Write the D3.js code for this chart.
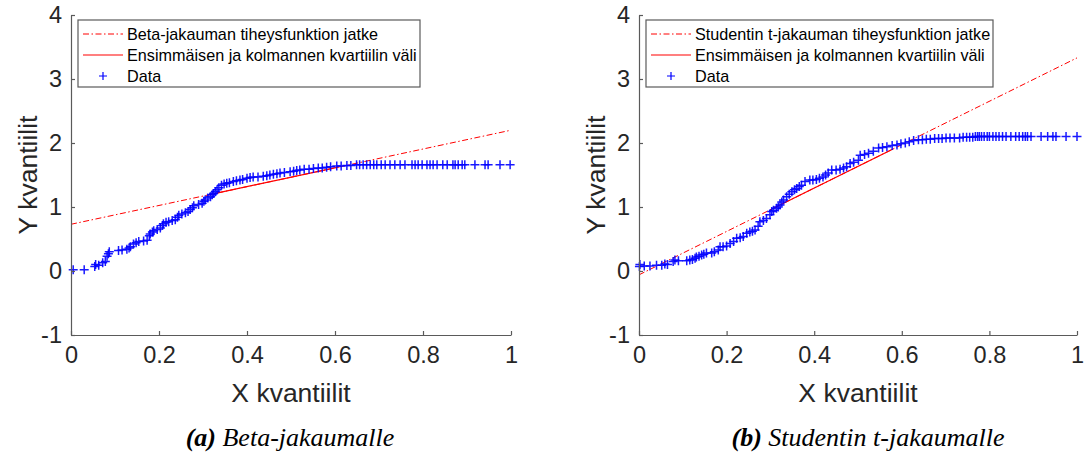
<!DOCTYPE html>
<html>
<head>
<meta charset="utf-8">
<script src="https://cdn.jsdelivr.net/npm/d3@7"></script>
<style>
  body { margin: 0; background: #fff; }
  svg { display: block; }
</style>
</head>
<body>
<svg id="chart" width="1084" height="455"></svg>
<script>
// ---- Q-Q data: beta fit (panel a) ----
const betaX = [0.005,0.03,0.054,0.056,0.063,0.072,0.078,0.082,0.085,0.087,0.108,0.116,0.127,0.132,0.135,0.142,0.148,0.154,0.165,0.173,
  0.178,0.18,0.185,0.188,0.196,0.203,0.208,0.21,0.216,0.222,0.23,0.237,0.242,0.245,0.252,0.26,0.266,0.271,0.276,0.279,
  0.29,0.298,0.302,0.305,0.311,0.317,0.321,0.324,0.328,0.332,0.336,0.342,0.348,0.354,0.36,0.369,0.376,0.384,0.39,0.4,
  0.407,0.414,0.425,0.437,0.445,0.452,0.46,0.468,0.475,0.485,0.498,0.506,0.513,0.52,0.53,0.541,0.551,0.562,0.571,0.581,
  0.59,0.604,0.614,0.627,0.636,0.649,0.656,0.664,0.672,0.68,0.688,0.695,0.705,0.714,0.725,0.736,0.748,0.759,0.775,0.782,
  0.789,0.798,0.809,0.816,0.823,0.832,0.845,0.855,0.868,0.873,0.88,0.889,0.895,0.918,0.941,0.948,0.975,0.998];
const betaY = [0.02,0.02,0.07,0.10,0.09,0.13,0.15,0.23,0.27,0.30,0.32,0.33,0.34,0.36,0.38,0.42,0.44,0.46,0.47,0.48,
  0.55,0.58,0.61,0.63,0.65,0.67,0.71,0.74,0.76,0.77,0.79,0.80,0.84,0.87,0.89,0.91,0.93,0.96,0.99,1.02,
  1.04,1.06,1.09,1.11,1.14,1.16,1.19,1.21,1.24,1.27,1.30,1.34,1.36,1.37,1.38,1.40,1.41,1.42,1.43,1.45,
  1.46,1.47,1.47,1.48,1.49,1.50,1.51,1.52,1.53,1.54,1.55,1.56,1.57,1.58,1.59,1.59,1.60,1.61,1.61,1.62,
  1.63,1.64,1.64,1.65,1.65,1.66,1.66,1.66,1.66,1.66,1.66,1.66,1.66,1.66,1.66,1.66,1.66,1.66,1.66,1.66,
  1.66,1.66,1.66,1.66,1.66,1.66,1.66,1.66,1.66,1.66,1.66,1.66,1.66,1.66,1.66,1.66,1.66,1.66];
const betaFitX = [0, 1];
const betaFitY = [0.73, 2.2];
const betaIqrX = [0.31, 0.61];
const betaIqrY = [1.186, 1.627];

// ---- Q-Q data: Student t fit (panel b) ----
const tX = [0.001,0.002,0.012,0.025,0.04,0.052,0.059,0.065,0.078,0.082,0.09,0.109,0.116,0.122,0.128,0.131,0.137,0.143,0.148,0.154,
  0.166,0.172,0.181,0.185,0.192,0.2,0.208,0.216,0.223,0.231,0.238,0.246,0.253,0.259,0.265,0.272,0.276,0.284,0.291,0.299,
  0.303,0.307,0.314,0.318,0.322,0.326,0.33,0.337,0.343,0.349,0.355,0.36,0.366,0.371,0.379,0.39,0.397,0.405,0.412,0.42,
  0.426,0.432,0.44,0.45,0.459,0.467,0.474,0.482,0.49,0.501,0.505,0.515,0.524,0.535,0.547,0.556,0.566,0.578,0.589,0.598,
  0.608,0.617,0.627,0.638,0.647,0.656,0.665,0.675,0.684,0.692,0.701,0.71,0.72,0.732,0.74,0.748,0.755,0.762,0.768,0.773,
  0.777,0.782,0.788,0.795,0.8,0.808,0.815,0.822,0.83,0.838,0.849,0.86,0.868,0.876,0.882,0.887,0.895,0.918,0.933,0.945,
  0.952,0.975,1.0];
const tY = [0.07,0.10,0.08,0.08,0.09,0.09,0.11,0.10,0.15,0.17,0.16,0.16,0.17,0.18,0.20,0.22,0.23,0.25,0.26,0.28,
  0.28,0.30,0.33,0.38,0.38,0.39,0.43,0.46,0.51,0.52,0.54,0.59,0.61,0.62,0.64,0.70,0.77,0.79,0.82,0.88,
  0.93,0.95,0.98,1.00,1.03,1.08,1.11,1.16,1.20,1.24,1.27,1.29,1.32,1.34,1.40,1.42,1.42,1.43,1.45,1.47,
  1.50,1.53,1.58,1.58,1.59,1.61,1.63,1.68,1.70,1.73,1.81,1.82,1.84,1.87,1.92,1.93,1.94,1.96,1.97,1.99,
  2.00,2.02,2.04,2.05,2.05,2.06,2.06,2.07,2.07,2.07,2.08,2.08,2.08,2.08,2.09,2.09,2.09,2.09,2.10,2.10,
  2.10,2.10,2.10,2.10,2.10,2.10,2.10,2.10,2.10,2.10,2.10,2.10,2.10,2.10,2.10,2.10,2.10,2.10,2.10,2.10,
  2.10,2.10,2.10];
const tFitX = [0, 1];
const tFitY = [-0.06, 3.33];
const tIqrX = [0.30, 0.58];
const tIqrY = [0.957, 1.906];

// ---- axes & text ----
const xTickValues = [0, 0.2, 0.4, 0.6, 0.8, 1];
const xTickLabels = ["0", "0.2", "0.4", "0.6", "0.8", "1"];
const yTickValues = [-1, 0, 1, 2, 3, 4];
const yTickLabels = ["-1", "0", "1", "2", "3", "4"];
const xAxisTitle = "X kvantiilit";
const yAxisTitle = "Y kvantiilit";
const betaLegend = ["Beta-jakauman tiheysfunktion jatke", "Ensimmäisen ja kolmannen kvartiilin väli", "Data"];
const tLegend = ["Studentin t-jakauman tiheysfunktion jatke", "Ensimmäisen ja kolmannen kvartiilin väli", "Data"];
const betaCaption = ["(a)", "Beta-jakaumalle"];
const tCaption = ["(b)", "Studentin t-jakaumalle"];

const svg = d3.select("#chart");
const SANS = "'Liberation Sans', Arial, Helvetica, sans-serif";
const SERIF = "'Liberation Serif', 'Times New Roman', serif";
const AXIS = "#262626";
const AXIS_LINE = "#5a5a5a";
const DASHDOT = "6,2.5,1.5,2.5";
const plusPath = "M-4.5,0H4.5M0,-4.5V4.5";

function drawPanel(p) {
  const x = d3.scaleLinear().domain([0, 1]).range([p.left, p.right]);
  const y = d3.scaleLinear().domain([-1, 4]).range([335, 15]);
  const g = svg.append("g");

  // fitted reference line (dash-dot) and the quartile segment (solid)
  const line = d3.line().x(d => x(d[0])).y(d => y(d[1]));
  g.append("path")
    .attr("d", line(d3.zip(p.fitX, p.fitY)))
    .attr("fill", "none").attr("stroke", "#ff0000").attr("stroke-width", 1)
    .attr("stroke-dasharray", DASHDOT);
  g.append("path")
    .attr("d", line(d3.zip(p.iqrX, p.iqrY)))
    .attr("fill", "none").attr("stroke", "#ff0000").attr("stroke-width", 1.3);

  // data markers
  g.append("g").selectAll("path")
    .data(d3.zip(p.dataX, p.dataY))
    .join("path")
    .attr("transform", d => `translate(${x(d[0])},${y(d[1])})`)
    .attr("d", plusPath)
    .attr("stroke", "#0000ff").attr("stroke-width", 1.5).attr("stroke-opacity", 0.9)
    .attr("fill", "none");

  // axes (ticks pointing inward, box off)
  const xAxis = d3.axisBottom(x).tickValues(xTickValues)
    .tickFormat((d, i) => xTickLabels[i]).tickSizeInner(-4).tickSizeOuter(0).tickPadding(11);
  const yAxis = d3.axisLeft(y).tickValues(yTickValues)
    .tickFormat((d, i) => yTickLabels[i]).tickSizeInner(-4).tickSizeOuter(0).tickPadding(9);

  const gx = g.append("g").attr("transform", "translate(0,335)").call(xAxis);
  const gy = g.append("g").attr("transform", `translate(${p.left},0)`).call(yAxis);
  [gx, gy].forEach(a => {
    a.select(".domain").attr("stroke", AXIS_LINE).attr("stroke-width", 1.2);
    a.selectAll(".tick line").attr("stroke", AXIS_LINE).attr("stroke-width", 1.2);
    a.selectAll(".tick text").attr("fill", AXIS)
      .style("font-family", SANS).style("font-size", "23.5px");
  });

  // axis titles
  g.append("text")
    .attr("x", (p.left + p.right) / 2).attr("y", 402)
    .attr("text-anchor", "middle").attr("fill", AXIS)
    .style("font-family", SANS).style("font-size", "26.5px")
    .text(xAxisTitle);
  g.append("text")
    .attr("transform", `translate(${p.left - 34},175) rotate(-90)`)
    .attr("text-anchor", "middle").attr("fill", AXIS)
    .style("font-family", SANS).style("font-size", "26.5px")
    .text(yAxisTitle);

  // legend
  const L = p.legend;
  const lg = g.append("g").attr("transform", `translate(${L.x},${L.y})`);
  lg.append("rect").attr("width", L.w).attr("height", L.h)
    .attr("fill", "#fff").attr("stroke", AXIS_LINE).attr("stroke-width", 1.2);
  const rows = [14, 35, 56];
  lg.append("line").attr("x1", 5).attr("x2", 45).attr("y1", rows[0]).attr("y2", rows[0])
    .attr("stroke", "#ff0000").attr("stroke-width", 1).attr("stroke-dasharray", DASHDOT);
  lg.append("line").attr("x1", 5).attr("x2", 45).attr("y1", rows[1]).attr("y2", rows[1])
    .attr("stroke", "#ff0000").attr("stroke-width", 1.2);
  lg.append("path").attr("transform", `translate(25,${rows[2]})`).attr("d", "M-4,0H4M0,-4V4")
    .attr("stroke", "#0000ff").attr("stroke-width", 1.2);
  lg.selectAll("text.lbl").data(p.legendLabels).join("text")
    .attr("class", "lbl")
    .attr("x", 49).attr("y", (d, i) => rows[i] + 5.5)
    .attr("fill", "#000")
    .style("font-family", SANS).style("font-size", "16.2px")
    .text(d => d);

  // caption
  const cap = g.append("text")
    .attr("x", p.captionX).attr("y", 446)
    .attr("text-anchor", "middle").attr("fill", "#000")
    .style("font-family", SERIF).style("font-size", "26px").style("font-style", "italic");
  cap.append("tspan").style("font-weight", "bold").text(p.caption[0]);
  cap.append("tspan").text(" " + p.caption[1]);
}

drawPanel({
  left: 71, right: 511,
  dataX: betaX, dataY: betaY,
  fitX: betaFitX, fitY: betaFitY, iqrX: betaIqrX, iqrY: betaIqrY,
  legendLabels: betaLegend,
  legend: { x: 78, y: 20, w: 342, h: 67 },
  caption: betaCaption, captionX: 290
});

drawPanel({
  left: 639, right: 1077,
  dataX: tX, dataY: tY,
  fitX: tFitX, fitY: tFitY, iqrX: tIqrX, iqrY: tIqrY,
  legendLabels: tLegend,
  legend: { x: 646, y: 20, w: 347, h: 67 },
  caption: tCaption, captionX: 868
});
</script>
</body>
</html>
